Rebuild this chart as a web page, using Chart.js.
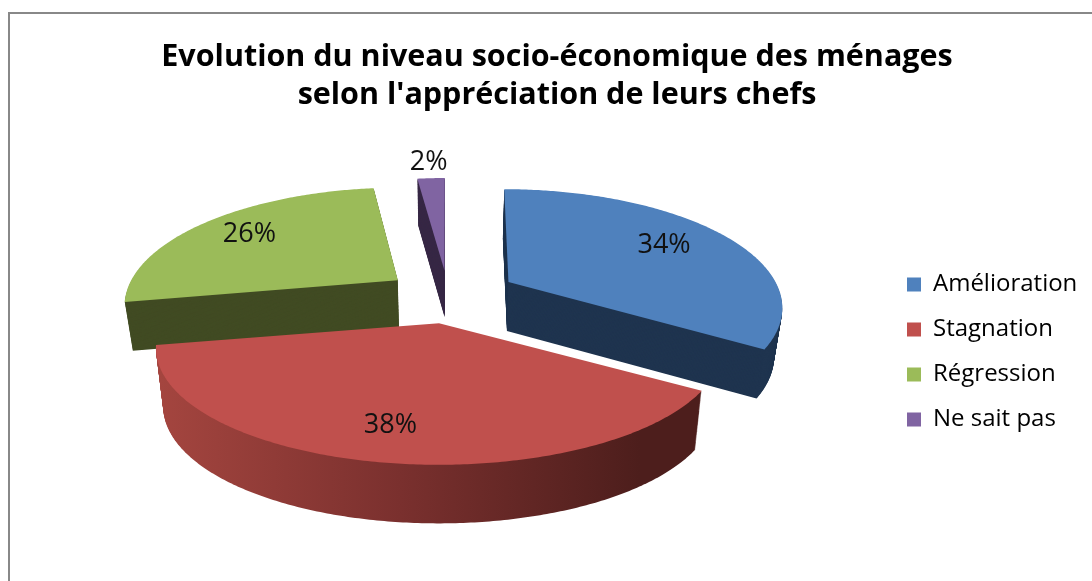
<!DOCTYPE html>
<html>
<head>
<meta charset="utf-8">
<title>Evolution du niveau socio-économique</title>
<style>
  html, body { margin: 0; padding: 0; background: #fff; overflow: hidden; }
  canvas { display: block; }
</style>
</head>
<body>
<canvas id="myChart" width="1092" height="581"></canvas>
<script src="https://cdn.jsdelivr.net/npm/chart.js@4/dist/chart.umd.min.js"></script>
<script>
const categories = ['Amélioration', 'Stagnation', 'Régression', 'Ne sait pas'];
const percentages = [34, 38, 26, 2];
const explode = [69, 48, 62, 55];
const topColors = ['#4F81BD', '#C0504D', '#9BBB59', '#8064A2'];
const sideColors = ['#1F344F', null, '#414B23', '#372845'];
const labelRadius = [0.72, 0.78, 0.76, 1.22];
const titleLines = ['Evolution du niveau socio-économique des ménages', "selon l'appréciation de leurs chefs"];
const fontName = '"Open Sans", sans-serif';

// the 3D look, Chart.js has no 3D pie: angles come from the arc elements
const view = { cx: 448, cy: 299, ax: 271, ay: 112, persp: 0.2085, tilt: 0.515, depth: 53 };

function project(arc, u, v, t) {
  const mid = (arc.startAngle + arc.endAngle) / 2;
  const off = arc.options.offset;
  const ox = Math.cos(mid) * off;
  const oy = Math.sin(mid) * off;
  const near = oy / arc.outerRadius;
  const w = 1 / (1 - view.persp * v);
  const x = view.cx + ox * (1 + 0.07 * v) + view.ax * (1 + 0.13 * near) * u * w;
  const y = view.cy + oy * view.tilt + view.ay * v * w + t * view.depth * (1 + 0.65 * near);
  return { x: view.cx + (x - view.cx) * (1 - 0.025 * t), y: y };
}

function slicePath(ctx, arc, t) {
  ctx.beginPath();
  const v0 = project(arc, 0, 0, t);
  ctx.moveTo(v0.x, v0.y);
  const steps = Math.ceil((arc.endAngle - arc.startAngle) * 90);
  for (let i = 0; i <= steps; i++) {
    const a = arc.startAngle + (arc.endAngle - arc.startAngle) * i / steps;
    const p = project(arc, Math.cos(a), Math.sin(a), t);
    ctx.lineTo(p.x, p.y);
  }
  ctx.closePath();
}

const frame = {
  id: 'frame',
  beforeDraw(chart) {
    const ctx = chart.ctx;
    ctx.save();
    ctx.fillStyle = '#fff';
    ctx.fillRect(0, 0, chart.width, chart.height);
    ctx.strokeStyle = '#888';
    ctx.lineWidth = 2;
    ctx.strokeRect(9, 13, chart.width + 20, chart.height + 20);
    ctx.restore();
  }
};

// legend sits lower and further right than the layout puts it
const legendShift = {
  id: 'legendShift',
  afterLayout(chart) {
    const legend = chart.legend;
    const dy = 352 - (legend.top + legend.bottom) / 2;
    legend.top += dy;
    legend.bottom += dy;
    legend.left = 886;
    legend.right = 1092;
  }
};

const pie3d = {
  id: 'pie3d',
  beforeDatasetDraw(chart, args) {
    const ctx = chart.ctx;
    const arcs = args.meta.data;
    const redSide = ctx.createLinearGradient(160, 0, 640, 0);
    redSide.addColorStop(0, '#A4453F');
    redSide.addColorStop(0.5, '#7A302E');
    redSide.addColorStop(1, '#4D1E1C');
    ctx.save();
    // back slices first, red one is in front of all
    [3, 0, 2, 1].forEach(i => {
      const arc = arcs[i];
      const layers = 60;
      ctx.fillStyle = sideColors[i] || redSide;
      for (let n = layers; n > 0; n--) {
        slicePath(ctx, arc, n / layers);
        ctx.fill();
      }
      ctx.fillStyle = topColors[i];
      slicePath(ctx, arc, 0);
      ctx.fill();
    });
    ctx.restore();
    return false;
  },
  afterDatasetsDraw(chart) {
    const ctx = chart.ctx;
    const arcs = chart.getDatasetMeta(0).data;
    ctx.save();
    ctx.fillStyle = '#111';
    ctx.font = '27px ' + fontName;
    ctx.textAlign = 'center';
    ctx.textBaseline = 'middle';
    arcs.forEach((arc, i) => {
      const mid = (arc.startAngle + arc.endAngle) / 2;
      const p = project(arc, Math.cos(mid) * labelRadius[i], Math.sin(mid) * labelRadius[i], 0);
      ctx.fillText(percentages[i] + '%', p.x, p.y);
    });
    ctx.restore();
  }
};

new Chart(document.getElementById('myChart'), {
  type: 'pie',
  data: {
    labels: categories,
    datasets: [{
      data: percentages,
      backgroundColor: topColors,
      borderWidth: 0,
      offset: explode,
      radius: 290
    }]
  },
  options: {
    responsive: false,
    animation: false,
    layout: { padding: { left: 40, right: 18 } },
    plugins: {
      title: {
        display: true,
        text: titleLines,
        color: '#000',
        font: { family: fontName, size: 30.5, weight: 'bold', lineHeight: 1.246 },
        padding: { top: 38, bottom: 11 }
      },
      legend: {
        position: 'right',
        labels: {
          color: '#000',
          boxWidth: 14,
          boxHeight: 14,
          padding: 21,
          font: { family: fontName, size: 24 }
        }
      },
      tooltip: { enabled: false }
    }
  },
  plugins: [frame, legendShift, pie3d]
});
</script>
</body>
</html>
